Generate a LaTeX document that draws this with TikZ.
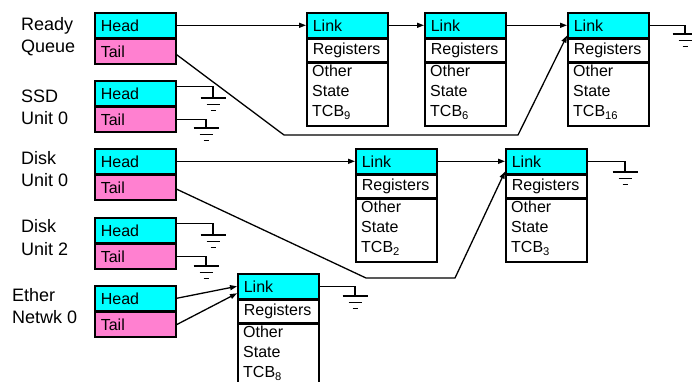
\documentclass[tikz,border=0pt]{standalone}
\usepackage{fontspec}
\setmainfont{Liberation Sans}
\usetikzlibrary{arrows.meta}
\definecolor{headcol}{HTML}{00FFFF}
\definecolor{tailcol}{HTML}{FF80D0}
\tikzset{
  cellfont/.style={font=\fontsize{16}{20}\selectfont},
  cell/.style={draw, line width=1.6pt, inner xsep=6pt, inner ysep=0pt,
    text width=69pt, align=left, anchor=north west, cellfont},
  headcell/.style={cell, fill=headcol, minimum height=25pt},
  tailcell/.style={cell, fill=tailcol, minimum height=24.5pt},
  linkcell/.style={cell, fill=headcol, minimum height=25pt},
  regcell/.style={cell, fill=white, minimum height=22pt},
  bodycell/.style={cell, fill=white, minimum height=63pt},
  bodytext/.style={anchor=north west, align=left, inner sep=0pt, cellfont},
  qlabel/.style={anchor=west, align=left, inner sep=0pt,
    font=\fontsize{18}{22.5}\selectfont},
  wire/.style={line width=1.3pt},
  arr/.style={-{Triangle[length=7pt,width=5pt]}},
  gbar/.style={line width=1.6pt},
  gnd/.pic={
    \draw[gbar] (-12.5,0) -- (12.5,0);
    \draw[gbar] (-6.5,6.5) -- (6.5,6.5);
    \draw[gbar] (-2.5,12.5) -- (2.5,12.5);
  }
}
% one task control block: link, registers, other state
\newcommand\tcbstack[4]{%
  \node[linkcell] (#1l) at (#2,#3) {Link};
  \node[regcell] (#1r) at (#1l.south west) {Registers};
  \node[bodycell] (#1b) at (#1r.south west) {};
  \node[bodytext] (#1s) at ([xshift=6pt,yshift=-3pt]#1b.north west)
    {Other\\State\\TCB\textsubscript{#4}};
}
% a queue header: head and tail pointers
\newcommand\qheader[2]{%
  \node[headcell] (#1h) at (94,#2) {Head};
  \node[tailcell] (#1t) at (#1h.south west) {Tail};
}
\begin{document}
\begin{tikzpicture}[x=1pt,y=-1pt]
\useasboundingbox (0,0) rectangle (692,382);
\fill[white] (0,0) rectangle (692,382);

% queue names
\node[qlabel] (lrq)  at (21,36.5)  {Ready\\Queue};
\node[qlabel] (lssd) at (21,107.5) {SSD\\Unit 0};
\node[qlabel] (ld0)  at (21,169)   {Disk\\Unit 0};
\node[qlabel] (ld2)  at (21,237.5) {Disk\\Unit 2};
\node[qlabel] (leth) at (12,306)   {Ether\\Netwk 0};

% queue headers
\qheader{rq}{12}
\qheader{ssd}{80}
\qheader{dz}{148}
\qheader{dt}{217}
\qheader{en}{285}

% task control blocks
\tcbstack{tnine}{306}{12}{9}
\tcbstack{tsix}{424}{12}{6}
\tcbstack{tsixteen}{567}{12}{16}
\tcbstack{ttwo}{355}{148}{2}
\tcbstack{tthree}{505}{148}{3}
\tcbstack{teight}{237}{273}{8}

% bend points and ground points
\coordinate (rqa) at (284,135);
\coordinate (rqb) at (518,135);
\coordinate (dza) at (366,278);
\coordinate (dzb) at (455,278);
\coordinate (gssdh) at (213,98);
\coordinate (gssdt) at (206,128);
\coordinate (gdth) at (213,235);
\coordinate (gdtt) at (206,266);
\coordinate (gsixteen) at (685,34);
\coordinate (gthree) at (625,172);
\coordinate (geight) at (355,296);

% ready queue
\draw[wire,arr] (rqh.east) -- (tninel.west);
\draw[wire,arr] (tninel.east) -- (tsixl.west);
\draw[wire,arr] (tsixl.east) -- (tsixteenl.west);
\draw[wire,arr] ([yshift=-3pt]rqt.east) -- (rqa) -- (rqb)
  -- ([yshift=3pt]tsixteenl.south west);
\draw[wire] (tsixteenl.east) -| (gsixteen);
\pic at (gsixteen) {gnd};

% SSD unit 0 (empty)
\draw[wire] ([yshift=7pt]ssdh.east) -| (gssdh);
\pic at (gssdh) {gnd};
\draw[wire] (ssdt.east) -| (gssdt);
\pic at (gssdt) {gnd};

% disk unit 0
\draw[wire,arr] (dzh.east) -- (ttwol.west);
\draw[wire,arr] (ttwol.east) -- (tthreel.west);
\draw[wire,arr] ([yshift=-1.5pt]dzt.east) -- (dza) -- (dzb)
  -- ([yshift=3pt]tthreel.south west);
\draw[wire] (tthreel.east) -| (gthree);
\pic at (gthree) {gnd};

% disk unit 2 (empty)
\draw[wire] ([yshift=6.5pt]dth.east) -| (gdth);
\pic at (gdth) {gnd};
\draw[wire] (dtt.east) -| (gdtt);
\pic at (gdtt) {gnd};

% ethernet 0
\draw[wire,arr] (enh.east) -- (teightl.west);
\draw[wire,arr] (ent.east) -- ([yshift=-7pt]teightl.west);
\draw[wire] (teightl.east) -| (geight);
\pic at (geight) {gnd};
\end{tikzpicture}
\end{document}
